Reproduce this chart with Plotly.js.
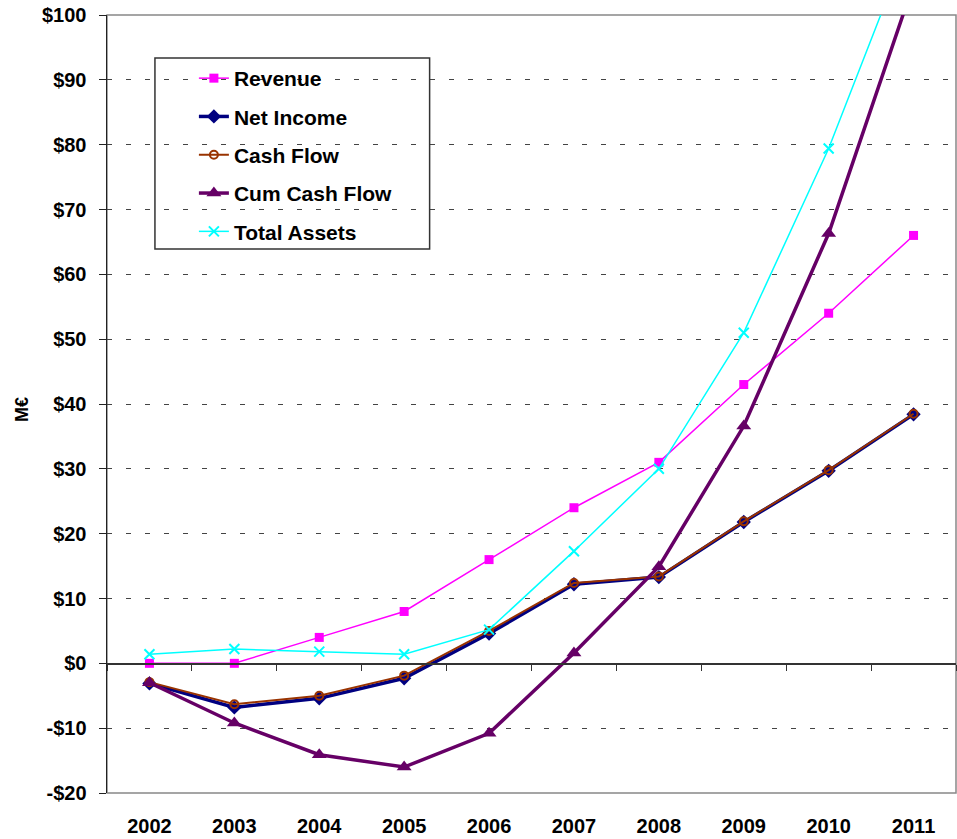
<!DOCTYPE html>
<html>
<head>
<meta charset="utf-8">
<script src="https://cdn.plot.ly/plotly-3.0.1.min.js"></script>
<style>html,body{margin:0;padding:0;background:#fff;}#chart{width:957px;height:839px;}</style>
</head>
<body>
<div id="chart"></div>
<script>
const years = ['2002','2003','2004','2005','2006','2007','2008','2009','2010','2011'];
const revenue = [0, 0, 4, 8, 16, 24, 31, 43, 54, 66];
const netIncome = [-3.1, -6.8, -5.4, -2.3, 4.6, 12.2, 13.3, 21.8, 29.7, 38.4];
const cashFlow = [-2.9, -6.3, -5.0, -1.9, 5.0, 12.4, 13.4, 21.9, 29.8, 38.5];
const cumCashFlow = [-3.0, -9.2, -14.1, -16.0, -10.8, 1.6, 14.9, 36.6, 66.3, 104.8];
const totalAssets = [1.4, 2.2, 1.8, 1.4, 5.2, 17.3, 30.0, 51.0, 79.4, 113];
const yTickVals = [-20, -10, 0, 10, 20, 30, 40, 50, 60, 70, 80, 90, 100];
const yTickText = ['-$20','-$10','$0','$10','$20','$30','$40','$50','$60','$70','$80','$90','$100'];

const FONT = 'Arial, "Liberation Sans", sans-serif';

const traces = [
  {name:'Revenue', x:years, y:revenue, mode:'lines+markers', legendgroup:'a',
   line:{color:'#FF00FF', width:1.5}, marker:{symbol:'square', size:9, color:'#FF00FF'}},
  {name:'Net Income', x:years, y:netIncome, mode:'lines+markers', legendgroup:'b',
   line:{color:'#000080', width:3.5}, marker:{symbol:'diamond', size:11, color:'#000080'}},
  {name:'Cash Flow', x:years, y:cashFlow, mode:'lines+markers', legendgroup:'c',
   line:{color:'#993300', width:2}, marker:{symbol:'circle-open', size:8, color:'#993300', line:{width:2}}},
  {name:'Cum Cash Flow', x:years, y:cumCashFlow, mode:'lines+markers', legendgroup:'d',
   line:{color:'#660066', width:3.5}, marker:{symbol:'triangle-up', size:13, color:'#660066'}},
  {name:'Total Assets', x:years, y:totalAssets, mode:'lines+markers', legendgroup:'e',
   line:{color:'#00FFFF', width:1.5}, marker:{symbol:'x-thin-open', size:10, color:'#00FFFF', line:{width:2, color:'#00FFFF'}}},
  {x:years, y:years.map(()=>null), xaxis:'x2', yaxis:'y', showlegend:false, hoverinfo:'skip', mode:'lines'}
];

const layout = {
  width:957, height:839,
  margin:{l:107, r:1, t:15, b:46},
  paper_bgcolor:'#fff', plot_bgcolor:'#fff',
  font:{family:FONT, color:'#000'},
  showlegend:true,
  legend:{x:(194-107)/850, y:1-(58-15)/778, xanchor:'left', yanchor:'top',
    bgcolor:'rgba(0,0,0,0)', borderwidth:0, tracegroupgap:8,
    font:{family:FONT, size:21, color:'#000', weight:'bold'}},
  xaxis:{type:'category', range:[-0.5, 9.5], showgrid:false, zeroline:false, showline:false,
    ticks:'', tickfont:{family:FONT, size:20, weight:'bold'}, ticklabelstandoff:19, fixedrange:true},
  xaxis2:{type:'category', overlaying:'x', anchor:'free', position:20/120, range:[-0.5, 9.5],
    showline:true, linecolor:'#333', linewidth:1.5, ticks:'outside', tickson:'boundaries',
    ticklen:6, tickcolor:'#333', showticklabels:false, showgrid:false, zeroline:false},
  yaxis:{range:[-20,100], tickvals:yTickVals, ticktext:yTickText, showgrid:true,
    gridcolor:'#444', griddash:'5px,14px', gridwidth:1, zeroline:false,
    showline:true, linecolor:'#222', linewidth:1.5, ticks:'outside', ticklen:7, tickcolor:'#222',
    tickfont:{family:FONT, size:20, weight:'bold'}, ticklabelstandoff:8},
  shapes:[
    {type:'rect', xref:'paper', yref:'paper', x0:0, x1:1, y0:0, y1:1, line:{color:'#888', width:1.5}, layer:'below'},
    {type:'rect', xref:'paper', yref:'paper', x0:(155-107)/850, x1:(430-107)/850,
     y0:1-(249-15)/778, y1:1-(58-15)/778, line:{color:'#333', width:1.5}, fillcolor:'rgba(0,0,0,0)', layer:'above'}
  ],
  annotations:[
    {text:'M€', xref:'paper', yref:'paper', x:(22-107)/850, y:1-(410-15)/778, showarrow:false,
     textangle:-90, font:{family:FONT, size:18, weight:'bold'}, xanchor:'center', yanchor:'middle'}
  ]
};

Plotly.newPlot('chart', traces, layout, {displayModeBar:false, staticPlot:true});
</script>
</body>
</html>
